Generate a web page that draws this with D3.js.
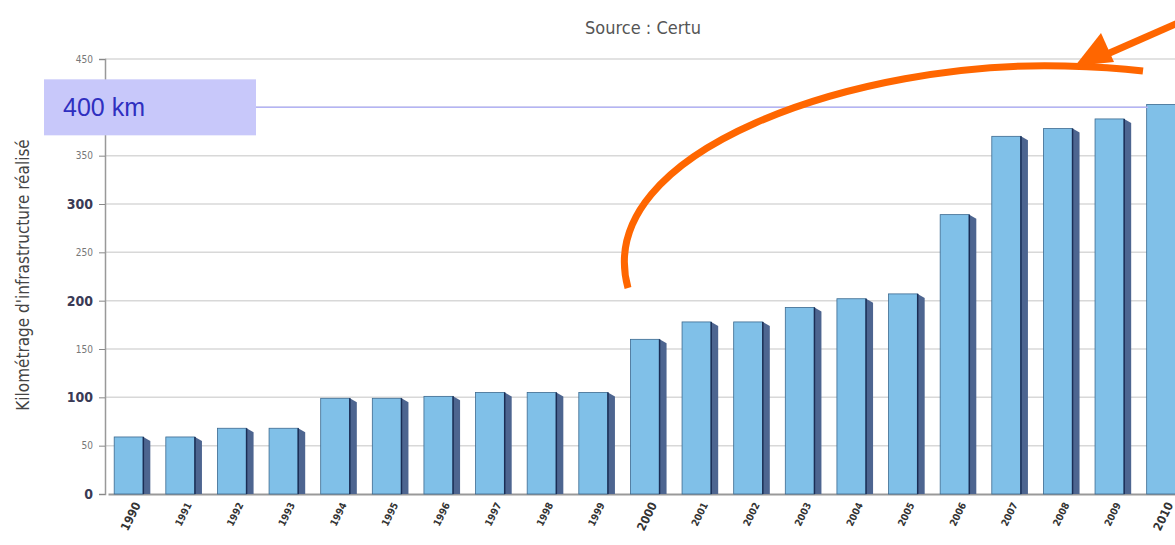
<!DOCTYPE html>
<html><head><meta charset="utf-8">
<script src="https://cdn.jsdelivr.net/npm/d3@7"></script>
<style>body{margin:0;background:#fff}svg{display:block}</style>
</head><body>
<svg id="c" width="1175" height="545"></svg>
<script>
const years = ["1990","1991","1992","1993","1994","1995","1996","1997","1998","1999","2000","2001","2002","2003","2004","2005","2006","2007","2008","2009","2010"];
const km = [59,59,68,68,99,99,101,105,105,105,160,178,178,193,202,207,289,370,378,388,403];
const yTicks = [0,50,100,150,200,250,300,350,400,450];
const refValue = 400;
const refLabel = "400 km";
const title = "Source : Certu";
const yTitle = "Kilométrage d'infrastructure réalisé";

const svg = d3.select("#c");
const x = d3.scaleBand().domain(years).range([108, 1189]).paddingInner(0.3).paddingOuter(0.12);
const y = d3.scaleLinear().domain([0, 450]).range([494, 59]);

// gridlines
svg.append("g").selectAll("line").data(yTicks.slice(1)).join("line")
  .attr("x1", 105).attr("x2", 1175).attr("y1", d => y(d)).attr("y2", d => y(d))
  .attr("stroke", "#d8d8d8").attr("stroke-width", 1.5);

// y axis (the 400 label is hidden under the annotation box in the original)
const ya = svg.append("g").attr("transform", "translate(105,0)")
  .call(d3.axisLeft(y).tickValues(yTicks).tickSize(6).tickPadding(6)
    .tickFormat(d => d === refValue ? "" : d));
ya.select(".domain").attr("stroke", "#999").attr("stroke-width", 1.5);
ya.selectAll(".tick line").attr("stroke", "#888");
ya.selectAll(".tick text").attr("fill", d => d % 100 === 0 ? "#3a3a55" : "#777")
  .attr("font-family", "DejaVu Sans Condensed, DejaVu Sans").attr("font-size", d => d % 100 === 0 ? 14 : 10)
  .attr("font-weight", d => d % 100 === 0 ? "bold" : "normal");

// x axis
const xa = svg.append("g").attr("transform", "translate(0,494)")
  .call(d3.axisBottom(x).tickSize(0).tickPadding(0));
xa.select(".domain").attr("stroke", "#999").attr("stroke-width", 2);
xa.selectAll(".tick text")
  .attr("font-family", "DejaVu Sans Condensed, DejaVu Sans")
  .attr("font-size", d => (d === "1990" || d === "2000" || d === "2010") ? 12 : 10)
  .attr("font-weight", "bold").attr("fill", "#333")
  .attr("text-anchor", "end").attr("dy", "0.35em")
  .attr("transform", "translate(5,9) rotate(-64)");

// bars (3D-ish)
const bw = x.bandwidth();
const side = 7;
const g = svg.append("g");
const bars = g.selectAll("g.bar").data(years.map((yr, i) => ({yr, v: km[i]}))).join("g").attr("class", "bar");
bars.append("path")
  .attr("d", d => {
    const x0 = x(d.yr) + bw - side, x1 = x(d.yr) + bw, t = y(d.v), b = y(0);
    return `M${x0},${t}L${x1},${t + 4}L${x1},${b}L${x0},${b}Z`;
  })
  .attr("fill", "#4d6590");
bars.append("rect")
  .attr("x", d => x(d.yr)).attr("y", d => y(d.v))
  .attr("width", bw - side).attr("height", d => y(0) - y(d.v))
  .attr("fill", "#80c0e8").attr("stroke", "#3c6a90").attr("stroke-width", 0.8);
bars.append("line")
  .attr("x1", d => x(d.yr) + bw - side).attr("x2", d => x(d.yr) + bw - side)
  .attr("y1", d => y(d.v)).attr("y2", y(0))
  .attr("stroke", "#1a2d55").attr("stroke-width", 1.5);

// reference line
svg.append("line").attr("x1", 256).attr("x2", 1148).attr("y1", y(refValue)).attr("y2", y(refValue))
  .attr("stroke", "#b4b4f5").attr("stroke-width", 1.5);
svg.append("rect").attr("x", 44).attr("y", y(refValue) - 28).attr("width", 212).attr("height", 56)
  .attr("fill", "#c8c8fa");
svg.append("text").attr("x", 63).attr("y", y(refValue) + 9).text(refLabel)
  .attr("font-family", "Liberation Sans, Arial").attr("font-size", 25).attr("fill", "#2f2fc0");

// title
svg.append("text").attr("x", 643).attr("y", 34).attr("text-anchor", "middle").text(title)
  .attr("font-family", "DejaVu Sans Condensed, DejaVu Sans").attr("font-size", 18).attr("fill", "#555");

// y title
svg.append("text").attr("transform", "translate(29,275) rotate(-90)").attr("text-anchor", "middle")
  .text(yTitle).attr("font-family", "DejaVu Sans Condensed, DejaVu Sans").attr("font-size", 17).attr("fill", "#444");

// orange arrow annotation
svg.append("path")
  .attr("d", "M628,288 C590,150 860,60 1065,66 Q1110,67 1143,71")
  .attr("fill", "none").attr("stroke", "#ff6600").attr("stroke-width", 7);
svg.append("path").attr("d", "M1180,22 L1105,55").attr("stroke", "#ff6600").attr("stroke-width", 7).attr("fill", "none");
svg.append("path").attr("d", "M1075,66 L1101,33 L1114,62 Z").attr("fill", "#ff6600");
</script>
</body></html>
